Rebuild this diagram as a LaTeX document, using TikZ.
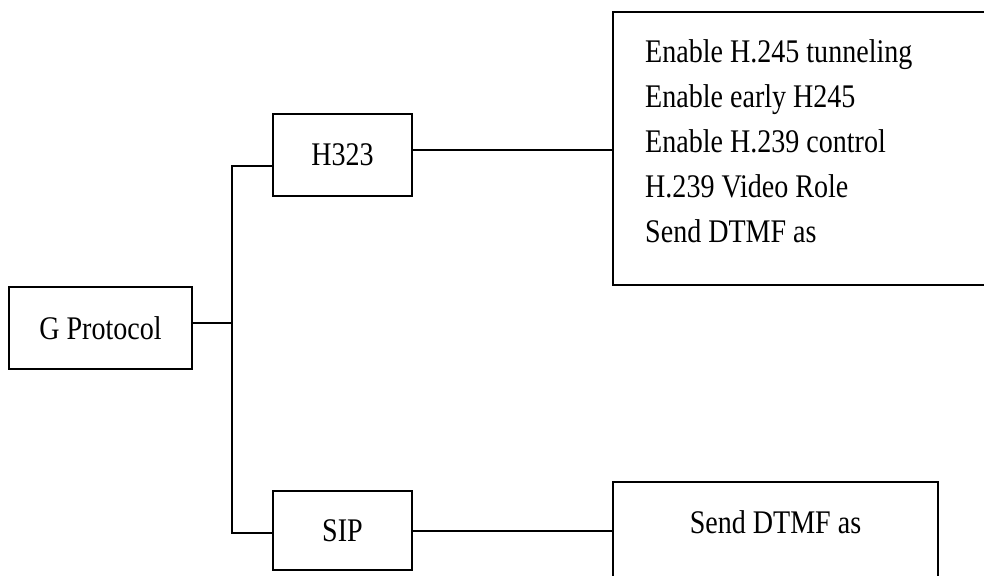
\documentclass[tikz,border=0pt]{standalone}
\usepackage{fontspec}
\setmainfont{Liberation Serif}[FakeStretch=0.85]
\usetikzlibrary{calc}
\begin{document}
\begin{tikzpicture}[x=1pt,y=-1pt,
  box/.style={draw, line width=1.9pt, rectangle, inner sep=0pt,
    font=\fontsize{33}{45}\selectfont},
  link/.style={line width=1.9pt},
  caption/.style={inner sep=0pt, font=\fontsize{33}{45}\selectfont}]
\clip (0,0) rectangle (984,575);

% protocol tree
\node[box, minimum width=183pt, minimum height=82pt] (gp) at (100.5,328) {G Protocol};
\node[box, minimum width=139pt, minimum height=82pt] (h323) at (342.5,155) {H323};
\node[box, minimum width=139pt, minimum height=79pt] (sip) at (342.5,530.5) {SIP};

% option panels
\node[box, minimum width=400pt, minimum height=273pt] (opts) at (813,148.5) {};
\node[box, minimum width=325pt, minimum height=98pt] (dtmf) at (775.5,531) {};
\node[caption, anchor=north west, align=left] (optlist) at (645,39.5)
  {Enable H.245 tunneling\\Enable early H245\\Enable H.239 control\\H.239 Video Role\\Send DTMF as};
\node[caption] (dtmftext) at ($(dtmf.north)+(0,41)$) {Send DTMF as};

% connectors
\coordinate (bus) at (232,323);
\coordinate (htap) at ($(h323.west)+(0,11)$);
\coordinate (stap) at ($(sip.west)+(0,2.5)$);
\coordinate (otap) at ($(opts.west)+(0,1.5)$);
\draw[link] ($(gp.east)+(0,-5)$) -- (bus);
\draw[link] (htap) -| (bus) |- (stap);
\draw[link] (h323.east |- otap) -- (otap);
\draw[link] (sip.east |- dtmf.west) -- (dtmf.west);
\end{tikzpicture}
\end{document}
